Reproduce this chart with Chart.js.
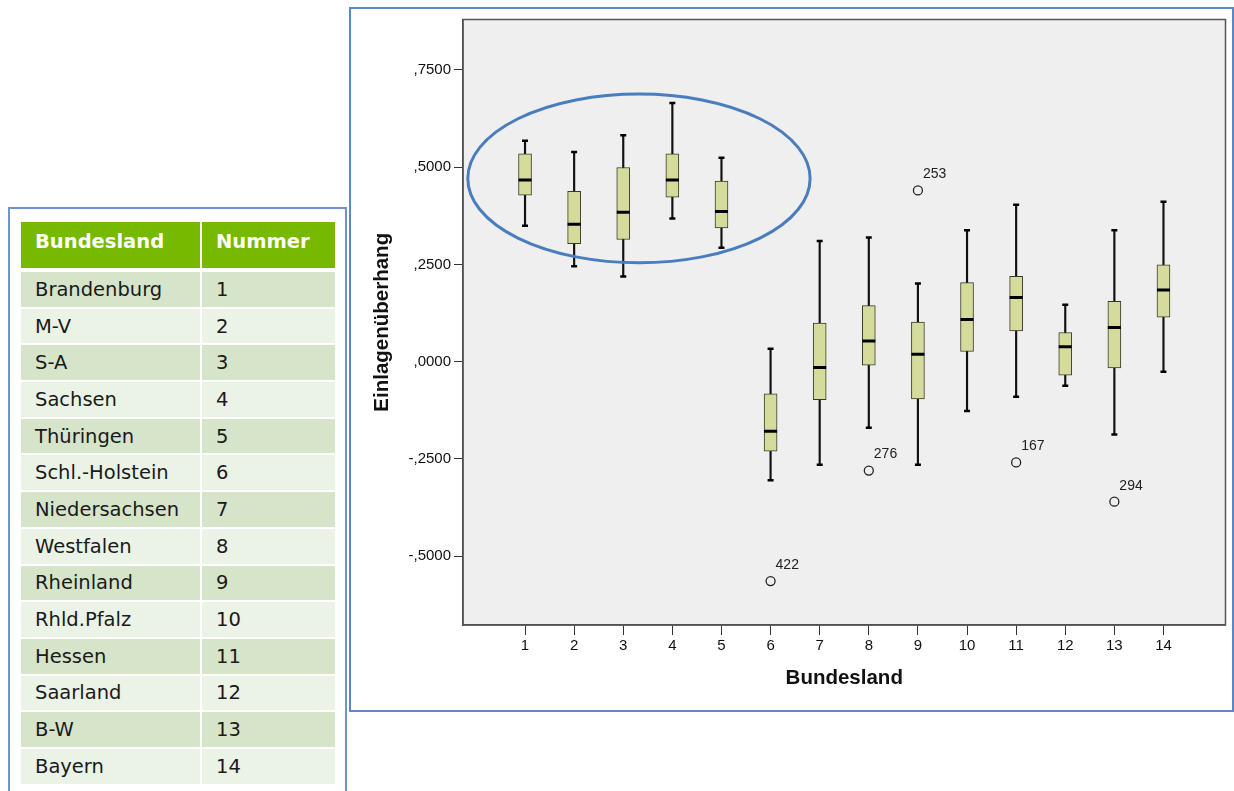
<!DOCTYPE html>
<html>
<head>
<meta charset="utf-8">
<script src="https://cdn.jsdelivr.net/npm/chart.js@4.4.1/dist/chart.umd.min.js"></script>
<style>
  html, body { margin: 0; padding: 0; background: #ffffff; width: 1234px; height: 791px; overflow: hidden; position: relative; }
  #chartFrame { position: absolute; left: 349px; top: 7px; width: 885px; height: 705px; border: 2px solid #5b87c6; box-sizing: border-box; z-index: 2; pointer-events: none; }
  #tableFrame { position: absolute; left: 8px; top: 207px; width: 339px; height: 620px; border: 2px solid #6f93cf; box-sizing: border-box; }
  #chartCanvas { position: absolute; left: 351px; top: 10px; }
  table { position: absolute; left: 19px; top: 220px; border-collapse: separate; border-spacing: 2px; font-family: "DejaVu Sans", Verdana, sans-serif; font-size: 19.5px; color: #1a1a1a; }
  th { background: #77b800; background-clip: padding-box; border-bottom: 2px solid #ffffff; color: #ffffff; font-weight: bold; text-align: left; height: 48px; padding: 0 0 8px 14px; box-sizing: border-box; vertical-align: middle; font-size: 19.5px; }
  td { height: 34.7px; padding: 0 0 0 14px; box-sizing: border-box; vertical-align: middle; }
  th.c1, td.c1 { width: 179px; }
  th.c2, td.c2 { width: 133px; }
  tr.odd td { background: #d6e4ca; }
  tr.even td { background: #ebf2e6; }
</style>
</head>
<body>
<div id="tableFrame"></div>
<table id="legendTable">
  <thead><tr><th class="c1" id="h1"></th><th class="c2" id="h2"></th></tr></thead>
  <tbody id="tbody"></tbody>
</table>
<canvas id="chartCanvas" width="884" height="699"></canvas>
<div id="chartFrame"></div>
<script>
// ---------- data ----------
const tableHeaders = ['Bundesland', 'Nummer'];
const stateNames = ['Brandenburg', 'M-V', 'S-A', 'Sachsen', 'Thüringen', 'Schl.-Holstein', 'Niedersachsen',
  'Westfalen', 'Rheinland', 'Rhld.Pfalz', 'Hessen', 'Saarland', 'B-W', 'Bayern'];
const categories = [1, 2, 3, 4, 5, 6, 7, 8, 9, 10, 11, 12, 13, 14];
const categoryLabels = ['1', '2', '3', '4', '5', '6', '7', '8', '9', '10', '11', '12', '13', '14'];

const whiskerLow  = [0.349, 0.245, 0.219, 0.368, 0.293, -0.305, -0.265, -0.170, -0.265, -0.127, -0.090, -0.062, -0.187, -0.026];
const q1          = [0.428, 0.303, 0.314, 0.423, 0.344, -0.230, -0.098, -0.009, -0.096,  0.026,  0.079, -0.035, -0.016,  0.114];
const medians     = [0.467, 0.353, 0.384, 0.467, 0.386, -0.179, -0.015,  0.053,  0.019,  0.108,  0.165,  0.038,  0.088,  0.184];
const q3          = [0.534, 0.438, 0.499, 0.534, 0.464, -0.083,  0.099,  0.144,  0.102,  0.203,  0.219,  0.075,  0.155,  0.249];
const whiskerHigh = [0.568, 0.539, 0.582, 0.665, 0.524,  0.033,  0.310,  0.319,  0.201,  0.338,  0.403,  0.146,  0.338,  0.411];

const outlierX   = [9, 6, 8, 11, 13];
const outlierY   = [0.440, -0.564, -0.280, -0.259, -0.360];
const outlierIds = ['253', '422', '276', '167', '294'];

const yTickValues = [-0.5, -0.25, 0, 0.25, 0.5, 0.75];
const yTickLabels = ['-,5000', '-,2500', ',0000', ',2500', ',5000', ',7500'];
const xAxisTitle = 'Bundesland';
const yAxisTitle = 'Einlagenüberhang';

// ---------- table ----------
document.getElementById('h1').textContent = tableHeaders[0];
document.getElementById('h2').textContent = tableHeaders[1];
const tbody = document.getElementById('tbody');
stateNames.forEach((name, i) => {
  const tr = document.createElement('tr');
  tr.className = i % 2 === 0 ? 'odd' : 'even';
  const a = document.createElement('td'); a.className = 'c1'; a.textContent = name;
  const b = document.createElement('td'); b.className = 'c2'; b.textContent = categoryLabels[i];
  tr.appendChild(a); tr.appendChild(b); tbody.appendChild(tr);
});

// ---------- chart ----------
Chart.defaults.font.family = '"Liberation Sans", Arial, sans-serif';
Chart.defaults.color = '#111111';

const plotBackground = {
  id: 'plotBackground',
  beforeDraw(chart) {
    const { ctx, chartArea: a } = chart;
    ctx.save();
    ctx.fillStyle = '#efefef';
    ctx.fillRect(a.left, a.top, a.right - a.left, a.bottom - a.top);
    ctx.restore();
  },
  afterDraw(chart) {
    const { ctx, chartArea: a } = chart;
    ctx.save();
    ctx.strokeStyle = '#555555';
    ctx.lineWidth = 1.5;
    ctx.strokeRect(a.left, a.top, a.right - a.left, a.bottom - a.top);
    ctx.restore();
  }
};

const outlierLabels = {
  id: 'outlierLabels',
  afterDatasetsDraw(chart) {
    const idx = chart.data.datasets.findIndex(d => d.label === 'outliers');
    const meta = chart.getDatasetMeta(idx);
    const ctx = chart.ctx;
    ctx.save();
    ctx.font = '14px "Liberation Sans", Arial, sans-serif';
    ctx.fillStyle = '#222222';
    ctx.textAlign = 'left';
    ctx.textBaseline = 'middle';
    meta.data.forEach((pt, i) => {
      ctx.fillText(outlierIds[i], pt.x + 5, pt.y - 16);
    });
    ctx.restore();
  }
};

const highlightEllipse = {
  id: 'highlightEllipse',
  afterDraw(chart) {
    const xs = chart.scales.x, ys = chart.scales.y;
    const cx = xs.getPixelForValue(3.32), cy = ys.getPixelForValue(0.471);
    const rx = xs.getPixelForValue(3.32 + 3.485) - cx;
    const ry = cy - ys.getPixelForValue(0.471 + 0.217);
    const ctx = chart.ctx;
    ctx.save();
    ctx.strokeStyle = '#4a7dbd';
    ctx.lineWidth = 3;
    ctx.beginPath();
    ctx.ellipse(cx, cy, rx, ry, 0, 0, Math.PI * 2);
    ctx.stroke();
    ctx.restore();
  }
};

new Chart(document.getElementById('chartCanvas'), {
  type: 'bar',
  data: {
    datasets: [
      {
        label: 'whiskers',
        data: categories.map((c, i) => ({ x: c, y: [whiskerLow[i], whiskerHigh[i]] })),
        backgroundColor: '#111111',
        borderWidth: 0,
        barThickness: 1.5,
        grouped: false,
        order: 4
      },
      {
        label: 'boxes',
        data: categories.map((c, i) => ({ x: c, y: [q1[i], q3[i]] })),
        backgroundColor: '#d5dc9b',
        borderColor: '#3a3a2a',
        borderWidth: 1,
        borderSkipped: false,
        barThickness: 13,
        grouped: false,
        order: 3
      },
      {
        type: 'scatter',
        label: 'medians',
        data: categories.map((c, i) => ({ x: c, y: medians[i] })),
        pointStyle: 'line',
        pointRadius: 6.5,
        pointHoverRadius: 6.5,
        borderColor: '#000000',
        pointBorderColor: '#000000',
        pointBorderWidth: 3,
        order: 2
      },
      {
        type: 'scatter',
        label: 'capsHigh',
        data: categories.map((c, i) => ({ x: c, y: whiskerHigh[i] })),
        pointStyle: 'line',
        pointRadius: 3,
        pointHoverRadius: 3,
        pointBorderColor: '#000000',
        pointBorderWidth: 2.5,
        order: 2
      },
      {
        type: 'scatter',
        label: 'capsLow',
        data: categories.map((c, i) => ({ x: c, y: whiskerLow[i] })),
        pointStyle: 'line',
        pointRadius: 3,
        pointHoverRadius: 3,
        pointBorderColor: '#000000',
        pointBorderWidth: 2.5,
        order: 2
      },
      {
        type: 'scatter',
        label: 'outliers',
        data: outlierX.map((c, i) => ({ x: c, y: outlierY[i] })),
        pointStyle: 'circle',
        pointRadius: 4.5,
        pointHoverRadius: 4.5,
        pointBackgroundColor: 'rgba(0,0,0,0)',
        pointBorderColor: '#222222',
        pointBorderWidth: 1.3,
        order: 1
      }
    ]
  },
  options: {
    responsive: false,
    animation: false,
    devicePixelRatio: 1,
    layout: { padding: { top: 7, right: 4, left: 0, bottom: 0 } },
    plugins: { legend: { display: false }, tooltip: { enabled: false } },
    scales: {
      x: {
        type: 'linear',
        min: -0.263,
        max: 15.263,
        offset: false,
        afterBuildTicks: s => { s.ticks = categories.map(v => ({ value: v })); },
        afterFit: s => { s.height = 84; s.paddingLeft = 0; s.paddingRight = 0; },
        ticks: {
          autoSkip: false,
          maxRotation: 0,
          padding: 2,
          font: { size: 15 },
          color: '#111111',
          callback: (v, i) => categoryLabels[i]
        },
        grid: { display: true, drawOnChartArea: false, drawTicks: true, tickLength: 10, tickColor: '#333333', offset: false },
        border: { display: true, color: '#444444', width: 1.5 },
        title: { display: true, text: xAxisTitle, font: { size: 20.5, weight: 'bold', lineHeight: 1.2 }, color: '#111111', padding: { top: 0, bottom: 18 } }
      },
      y: {
        type: 'linear',
        min: -0.677,
        max: 0.8795,
        afterBuildTicks: s => { s.ticks = yTickValues.map(v => ({ value: v })); },
        afterFit: s => { s.width = 112; s.paddingTop = 0; s.paddingBottom = 0; },
        ticks: {
          padding: 3,
          font: { size: 15 },
          color: '#111111',
          callback: (v, i) => yTickLabels[i]
        },
        grid: { display: true, drawOnChartArea: false, drawTicks: true, tickLength: 9, tickColor: '#333333' },
        border: { display: true, color: '#444444', width: 1.5 },
        title: { display: true, text: yAxisTitle, font: { size: 20.5, weight: 'bold', lineHeight: 1.2 }, color: '#111111', padding: { top: 19, bottom: 0 } }
      }
    }
  },
  plugins: [plotBackground, outlierLabels, highlightEllipse]
});
</script>
</body>
</html>
